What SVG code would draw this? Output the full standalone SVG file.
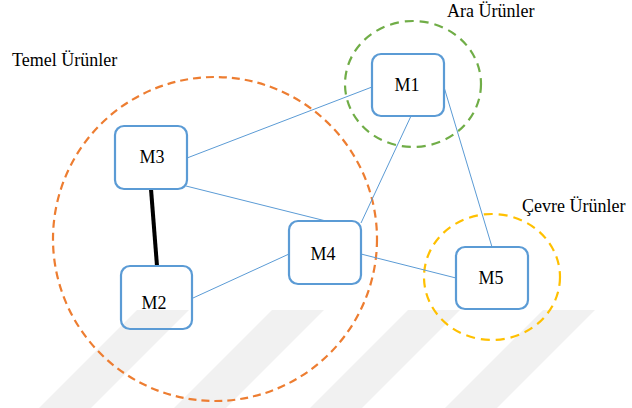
<svg xmlns="http://www.w3.org/2000/svg" width="632" height="408" viewBox="0 0 632 408">
<style>
  .bg { fill: #ffffff; }
  .stripe { fill: #f1f1f1; }
  .node rect { fill: none; stroke: #5B9BD5; stroke-width: 2.2; }
  .node text, .label { font-family: "Liberation Serif", "Times New Roman", serif; font-size: 18px; fill: #000000; }
  .node text { text-anchor: middle; }
  .link { stroke: #5B9BD5; stroke-width: 1; fill: none; }
  .strong { stroke: #000000; stroke-width: 4; fill: none; }
  .group { fill: none; stroke-width: 2.2; }
</style>
<rect class="bg" x="0" y="0" width="632" height="408"/>
<g id="watermark">
  <polygon class="stripe" points="137,310 189,310 91,408 39,408"/>
  <polygon class="stripe" points="272,310 324,310 226,408 174,408"/>
  <polygon class="stripe" points="408,310 460,310 362,408 310,408"/>
  <polygon class="stripe" points="543,310 595,310 497,408 445,408"/>
</g>
<g id="groups">
  <g id="temel">
    <circle class="group" cx="215" cy="239" r="162" stroke="#ED7D31" stroke-dasharray="8 5"/>
    <text class="label" x="12" y="66">Temel Ürünler</text>
  </g>
  <g id="ara">
    <ellipse class="group" cx="413" cy="84" rx="68" ry="63" stroke="#70AD47" stroke-width="2.5" stroke-dasharray="9 6"/>
    <text class="label" x="447" y="17">Ara Ürünler</text>
  </g>
  <g id="cevre">
    <ellipse class="group" cx="492" cy="277" rx="68" ry="63" stroke="#FFC000" stroke-width="2.5" stroke-dasharray="9 6"/>
    <text class="label" x="522" y="212">Çevre Ürünler</text>
  </g>
</g>
<g id="connectors">
  <line class="link" x1="187" y1="158" x2="372" y2="87"/>
  <line class="link" x1="186" y1="186" x2="326" y2="221"/>
  <line class="link" x1="411" y1="116" x2="361" y2="223"/>
  <line class="link" x1="444" y1="87" x2="492" y2="247"/>
  <line class="link" x1="361" y1="254" x2="456" y2="278"/>
  <line class="link" x1="193" y1="298" x2="289" y2="254"/>
  <line class="strong" x1="151" y1="189" x2="157" y2="266"/>
</g>
<g id="M1" class="node">
  <rect x="372" y="54" width="72" height="62" rx="9"/>
  <text x="407" y="91">M1</text>
</g>
<g id="M3" class="node">
  <rect x="115" y="126" width="72" height="63" rx="9"/>
  <text x="152" y="163">M3</text>
</g>
<g id="M2" class="node">
  <rect x="121" y="266" width="71" height="63" rx="9"/>
  <text x="154" y="309">M2</text>
</g>
<g id="M4" class="node">
  <rect x="289" y="221" width="72" height="63" rx="9"/>
  <text x="323" y="260">M4</text>
</g>
<g id="M5" class="node">
  <rect x="456" y="247" width="72" height="62" rx="9"/>
  <text x="491" y="284">M5</text>
</g>
</svg>
